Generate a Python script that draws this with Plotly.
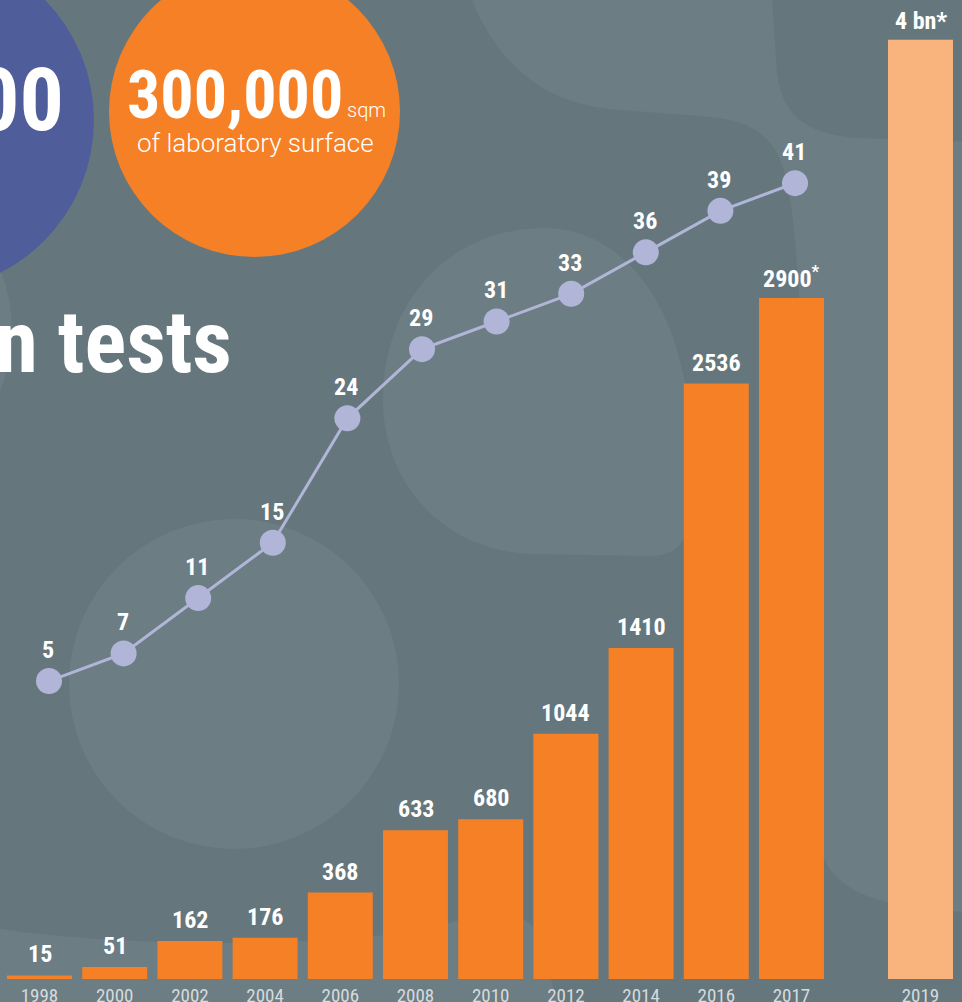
import plotly.graph_objects as go

# ---------------- data ----------------
years = ["1998", "2000", "2002", "2004", "2006", "2008", "2010", "2012", "2014", "2016", "2017"]
tests_millions = [15, 51, 162, 176, 368, 633, 680, 1044, 1410, 2536, 2900]
tests_estimated = [False, False, False, False, False, False, False, False, False, False, True]
forecast_year = ["2019"]
forecast_tests = [4000]
forecast_labels = ["4 bn*"]
labs_count = [5, 7, 11, 15, 24, 29, 31, 33, 36, 39, 41]

# ---------------- style ----------------
W, H = 962, 1002
BOTTOM = 23
PLOT_H = H - BOTTOM
BG = "#65777d"
BG_LIGHT = "#6c7d83"
ORANGE = "#f58025"
ORANGE_LIGHT = "#f8b47c"
BLUE = "#4f5e9b"
LAV = "#b1b6d8"
BOLD = "Liberation Sans Narrow, Roboto Condensed, Roboto"
LIGHT = "Roboto"


def X(px):
    return px / W


def Y(py):
    return (PLOT_H - py) / PLOT_H


def path(segs):
    s = ""
    for cmd, pts in segs:
        s += cmd + " " + " ".join(f"{X(x):.5f},{Y(y):.5f}" for x, y in pts) + " "
    return s + "Z"


def circle(cx, cy, r, color):
    return dict(type="circle", xref="paper", yref="paper", layer="below",
                x0=X(cx - r), x1=X(cx + r), y0=Y(cy + r), y1=Y(cy - r),
                fillcolor=color, line=dict(width=0))


def blob(segs, color):
    return dict(type="path", xref="paper", yref="paper", layer="below",
                path=path(segs), fillcolor=color, line=dict(width=0))


shapes = [
    # top / right organic lighter region
    blob([("M", [(470, -5)]),
          ("C", [(495, 60), (540, 105), (620, 110)]),
          ("L", [(700, 116)]),
          ("C", [(760, 120), (782, 140), (790, 200)]),
          ("C", [(800, 260), (805, 400), (808, 600)]),
          ("L", [(812, 800)]),
          ("C", [(815, 885), (850, 905), (967, 912)]),
          ("L", [(967, 142)]),
          ("L", [(860, 138)]),
          ("C", [(800, 135), (778, 110), (776, 60)]),
          ("L", [(772, -5)])], BG_LIGHT),
    # middle blob
    blob([("M", [(383, 400)]),
          ("C", [(383, 300), (450, 228), (545, 228)]),
          ("C", [(620, 228), (680, 300), (690, 420)]),
          ("C", [(697, 500), (700, 556), (650, 556)]),
          ("L", [(530, 554)]),
          ("C", [(440, 550), (383, 480), (383, 400)])], BG_LIGHT),
    # bottom-left band
    blob([("M", [(-5, 928)]),
          ("C", [(100, 945), (300, 950), (420, 930)]),
          ("C", [(480, 915), (520, 905), (535, 930)]),
          ("C", [(545, 960), (555, 990), (560, 1010)]),
          ("L", [(-5, 1010)])], BG_LIGHT),
    circle(234, 684, 165, BG_LIGHT),
    circle(-150, 330, 162, BG_LIGHT),
    # feature circles
    circle(-77.5, 120, 171.5, BLUE),
    circle(254.5, 111.5, 145.5, ORANGE),
]

# ---------------- figure ----------------
fig = go.Figure()

fig.add_trace(go.Bar(x=years, y=tests_millions, xaxis="x", yaxis="y",
                     marker=dict(color=ORANGE, line=dict(width=0)),
                     hoverinfo="x+y"))
fig.add_trace(go.Bar(x=forecast_year, y=forecast_tests, xaxis="x2", yaxis="y",
                     marker=dict(color=ORANGE_LIGHT, line=dict(width=0)),
                     hoverinfo="x+y"))
fig.add_trace(go.Scatter(x=years, y=labs_count, xaxis="x3", yaxis="y2",
                         mode="lines+markers",
                         line=dict(color=LAV, width=3),
                         marker=dict(color=LAV, size=26, line=dict(width=0)),
                         cliponaxis=False, hoverinfo="x+y"))

LABEL_FONT = dict(family=BOLD, size=24, color="white", weight=700)
annotations = []
# category axes: annotations use the category's serial index
for i, (v, est) in enumerate(zip(tests_millions, tests_estimated)):
    txt = f"{v}<sup>*</sup>" if est else f"{v}"
    annotations.append(dict(x=i, y=v, xref="x", yref="y", text=txt, showarrow=False,
                            yanchor="middle", yshift=21, font=LABEL_FONT))
for i, (v, lab) in enumerate(zip(forecast_tests, forecast_labels)):
    annotations.append(dict(x=i, y=v, xref="x2", yref="y", text=lab, showarrow=False,
                            yanchor="middle", yshift=19, font=LABEL_FONT))
for i, v in enumerate(labs_count):
    annotations.append(dict(x=i, y=v, xref="x3", yref="y2", text=f"{v}", showarrow=False,
                            yanchor="middle", yshift=31, xshift=-1, font=LABEL_FONT))

# decorative headline texts
annotations += [
    dict(x=X(66), y=Y(99), xref="paper", yref="paper", text="00", showarrow=False,
         xanchor="right", yanchor="middle",
         font=dict(family=BOLD, size=88, color="white", weight=700)),
    dict(x=X(345), y=Y(95), xref="paper", yref="paper", text="300,000", showarrow=False,
         xanchor="right", yanchor="middle",
         font=dict(family=BOLD, size=66, color="white", weight=700)),
    dict(x=X(345), y=Y(110), xref="paper", yref="paper", text="sqm", showarrow=False,
         xanchor="left", yanchor="middle",
         font=dict(family=LIGHT, size=20, color="white", weight=300)),
    dict(x=X(255.5), y=Y(143), xref="paper", yref="paper", text="of laboratory surface",
         showarrow=False, xanchor="center", yanchor="middle",
         font=dict(family=LIGHT, size=26, color="white", weight=300)),
    dict(x=X(234), y=Y(342), xref="paper", yref="paper", text="n tests", showarrow=False,
         xanchor="right", yanchor="middle",
         font=dict(family=BOLD, size=87, color="white", weight=700)),
]

pitch = 75.2
x_start = 1.9
line_pitch = 74.6
line_first = 49
TICKFONT = dict(family=BOLD, size=19, color="#d6dbde", weight=400)
fig.update_layout(
    width=W, height=H,
    margin=dict(l=0, r=0, t=0, b=BOTTOM, pad=0, autoexpand=False),
    paper_bgcolor=BG, plot_bgcolor="rgba(0,0,0,0)",
    showlegend=False,
    bargap=0.136,
    xaxis=dict(domain=[X(x_start), X(x_start + 11 * pitch)], type="category",
               range=[-0.5, 10.5], showgrid=False, zeroline=False, showline=False,
               ticks="", tickfont=TICKFONT, ticklabelstandoff=3, anchor="y",
               automargin=False),
    xaxis2=dict(domain=[X(920.5 - pitch / 2), X(920.5 + pitch / 2)], type="category",
                range=[-0.5, 0.5], showgrid=False, zeroline=False, showline=False,
                ticks="", tickfont=TICKFONT, ticklabelstandoff=3, anchor="y",
                automargin=False),
    xaxis3=dict(domain=[X(line_first - line_pitch / 2), X(line_first + 10.5 * line_pitch)],
                type="category", range=[-0.5, 10.5], visible=False, showgrid=False,
                zeroline=False, anchor="y2", automargin=False),
    yaxis=dict(range=[0, PLOT_H / 0.2348], visible=False, showgrid=False, zeroline=False,
               anchor="x", automargin=False),
    yaxis2=dict(domain=[0, 1], range=[-(PLOT_H - 750.2) / 13.83, 750.2 / 13.83],
                visible=False, showgrid=False, zeroline=False, anchor="x3",
                automargin=False),
    shapes=shapes,
    annotations=annotations,
)

fig.write_html("out.html",
               config={"displayModeBar": False},
               post_script="document.body.style.margin='0';"
                           "document.body.style.overflow='hidden';")
